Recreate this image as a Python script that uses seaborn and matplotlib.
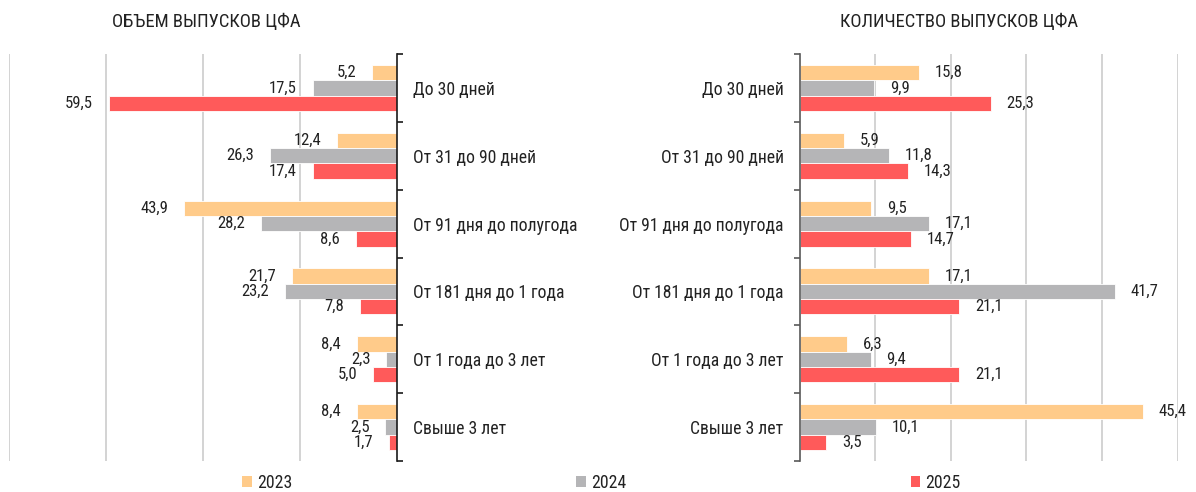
import matplotlib
matplotlib.use("Agg")
import matplotlib.pyplot as plt
from matplotlib import font_manager
from matplotlib.patches import Patch
import numpy as np
import pandas as pd
import seaborn as sns

# ---- data -------------------------------------------------------------
categories = [
    "До 30 дней",
    "От 31 до 90 дней",
    "От 91 дня до полугода",
    "От 181 дня до 1 года",
    "От 1 года до 3 лет",
    "Свыше 3 лет",
]
years = ["2023", "2024", "2025"]

volume_2023 = [5.2, 12.4, 43.9, 21.7, 8.4, 8.4]
volume_2024 = [17.5, 26.3, 28.2, 23.2, 2.3, 2.5]
volume_2025 = [59.5, 17.4, 8.6, 7.8, 5.0, 1.7]

count_2023 = [15.8, 5.9, 9.5, 17.1, 6.3, 45.4]
count_2024 = [9.9, 11.8, 17.1, 41.7, 9.4, 10.1]
count_2025 = [25.3, 14.3, 14.7, 21.1, 21.1, 3.5]

title_volume = "ОБЪЕМ ВЫПУСКОВ ЦФА"
title_count = "КОЛИЧЕСТВО ВЫПУСКОВ ЦФА"

colors = ["#FFCB8A", "#B5B5B7", "#FF5A5A"]
text_color = "#222222"
grid_color = "#CCCCCC"


def long_table(series):
    rows = []
    for year, values in zip(years, series):
        for cat, v in zip(categories, values):
            rows.append({"category": cat, "year": year, "value": v})
    return pd.DataFrame(rows)


df_volume = long_table([volume_2023, volume_2024, volume_2025])
df_count = long_table([count_2023, count_2024, count_2025])

# ---- style ------------------------------------------------------------
sns.set_theme(style="white")
available = {f.name for f in font_manager.fontManager.ttflist}
family = "DejaVu Sans"
for cand in ["Roboto Condensed", "Liberation Sans Narrow", "DejaVu Sans Condensed", "Roboto"]:
    if cand in available:
        family = cand
        break
plt.rcParams["font.family"] = [family, "DejaVu Sans"]
plt.rcParams["text.color"] = text_color

FS = 12.7        # category and legend text
FS_VAL = 12.0    # bar value labels

fig = plt.figure(figsize=(11.96, 4.92), dpi=100)
ax_l = fig.add_axes([9 / 1196, 31 / 492, 388.5 / 1196, 407 / 492])
ax_r = fig.add_axes([799.5 / 1196, 31 / 492, 378 / 1196, 407 / 492])


def fmt(v):
    return f"{v:.1f}".replace(".", ",")


def draw(ax, df, xmax, step, spine_color, side):
    sns.barplot(
        data=df, x="value", y="category", hue="year", hue_order=years,
        order=categories, palette=colors, saturation=1, orient="h", width=0.68,
        edgecolor="white", linewidth=0.6, legend=False, ax=ax,
    )
    ax.set_xlim(0, xmax)
    ax.set_ylim(len(categories) - 0.5, -0.5)
    if side == "left":
        ax.invert_xaxis()
    ax.set_xlabel("")
    ax.set_ylabel("")
    ax.set_xticks(np.arange(step, xmax + 0.01, step))
    ax.tick_params(axis="x", length=0, labelbottom=False)
    ax.grid(False)
    for gx in np.arange(step, xmax + 0.01, step):
        ax.axvline(gx, color=grid_color, linewidth=1.2, zorder=0)
    for s in ax.spines.values():
        s.set_visible(False)
    spine = ax.spines["right"] if side == "left" else ax.spines["left"]
    spine.set_visible(True)
    spine.set_color(spine_color)
    spine.set_linewidth(1.2)
    ax.set_yticks(range(len(categories)))
    ax.set_yticklabels(categories, fontsize=FS, color=text_color)
    ax.set_yticks(np.arange(-0.5, len(categories)), minor=True)
    if side == "left":
        ax.yaxis.tick_right()
    else:
        ax.yaxis.tick_left()
    ax.tick_params(axis="y", which="major", length=0, pad=11.5)
    ax.tick_params(axis="y", which="minor", length=4.5, width=1.2, color=spine_color)
    for cont, year in zip(ax.containers, years):
        vals = df[df["year"] == year].set_index("category").loc[categories, "value"]
        ax.bar_label(cont, labels=[fmt(v) for v in vals], padding=11.5,
                     fontsize=FS_VAL, color=text_color)


draw(ax_l, df_volume, 80, 20, "#1a1a1a", "left")
draw(ax_r, df_count, 50, 10, "#595959", "right")

fig.text(206 / 1196, 1 - 22 / 492, title_volume, ha="center", va="center",
         fontsize=13.4, color=text_color)
fig.text(959 / 1196, 1 - 22 / 492, title_count, ha="center", va="center",
         fontsize=13.4, color=text_color)

handles = [Patch(facecolor=c, edgecolor="none") for c in colors]
fig.legend(handles, years, loc="center", bbox_to_anchor=(601.5 / 1196, 1 - 483 / 492),
           ncol=3, frameon=False, fontsize=FS, handlelength=0.55,
           handleheight=0.55, handletextpad=0.3, columnspacing=16.1)

fig.savefig("out.png", dpi=100)
